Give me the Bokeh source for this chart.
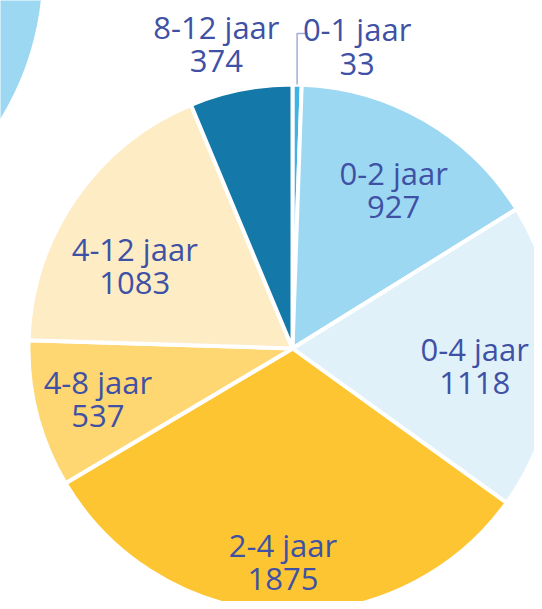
import math
from bokeh.plotting import figure
from bokeh.models import Range1d, ColumnDataSource
from bokeh.core.properties import value
from bokeh.embed import file_html
from bokeh.resources import INLINE

# ---- data ----
categories = ["0-1 jaar", "0-2 jaar", "0-4 jaar", "2-4 jaar", "4-8 jaar", "4-12 jaar", "8-12 jaar"]
counts = [33, 927, 1118, 1875, 537, 1083, 374]
colors = ["#3fb3e6", "#9dd8f2", "#e0f1fa", "#fec532", "#fed672", "#feecc5", "#1478a8"]

# ---- layout (pixel-like coordinates, y measured upward) ----
W, H = 534, 601
def py(y):             # convert screen-y (from picture top) to data y
    return H - y

CX, CY, R = 292, py(348), 264
TEXT_COLOR = "#3f51a5"
FONT = value("Open Sans")

# label placement per slice: (radius, angle offset in degrees)
label_place = [None, (188, 2.5), (183, 3.5), (214, 0.0), (201, 0.0), (178, -7.0), (314, -2.7)]

p = figure(width=W, height=H, output_backend="svg", toolbar_location=None,
           x_range=Range1d(0, W), y_range=Range1d(0, H),
           min_border=0, outline_line_color=None)
p.axis.visible = False
p.grid.visible = False
p.background_fill_color = "white"
p.border_fill_color = "white"

# decorative circle top-left
p.circle(x=[-243], y=[py(-31)], radius=285, fill_color="#9dd8f2", line_color=None)

total = sum(counts)
starts, ends, mids = [], [], []
cum = 0
for c in counts:
    a0 = math.pi / 2 - 2 * math.pi * cum / total
    cum += c
    a1 = math.pi / 2 - 2 * math.pi * cum / total
    starts.append(a0)
    ends.append(a1)
    mids.append((a0 + a1) / 2)

src = ColumnDataSource(dict(start=starts, end=ends, color=colors))
p.wedge(x=CX, y=CY, radius=R, start_angle="start", end_angle="end",
        direction="clock", fill_color="color", line_color="white", line_width=4,
        source=src)

# labels
lx, ly1, ly2, t1, t2 = [], [], [], [], []
for i, (cat, c) in enumerate(zip(categories, counts)):
    if label_place[i] is None:
        continue
    r, off = label_place[i]
    a = mids[i] - math.radians(off)
    x = CX + r * math.cos(a)
    y = CY + r * math.sin(a)
    lx.append(x); ly1.append(y + 17); ly2.append(y - 17)
    t1.append(cat); t2.append(str(c))

# 0-1 jaar: outside label with leader line
a01 = mids[0]
ex = CX + R * math.cos(a01)
ey = CY + R * math.sin(a01)
p.line(x=[ex, ex, ex + 11], y=[ey, ey + 51, ey + 51], line_color="#a3abd9", line_width=1.5)
lx.append(ex + 60); ly1.append(ey + 51 + 5); ly2.append(ey + 51 - 30)
t1.append(categories[0]); t2.append(str(counts[0]))

p.text(x=lx, y=ly1, text=t1, text_align="center", text_baseline="middle",
       text_font=FONT, text_font_size="31px", text_color=TEXT_COLOR)
p.text(x=lx, y=ly2, text=t2, text_align="center", text_baseline="middle",
       text_font=FONT, text_font_size="31px", text_color=TEXT_COLOR)

open("out.html", "w").write(file_html(p, INLINE))
